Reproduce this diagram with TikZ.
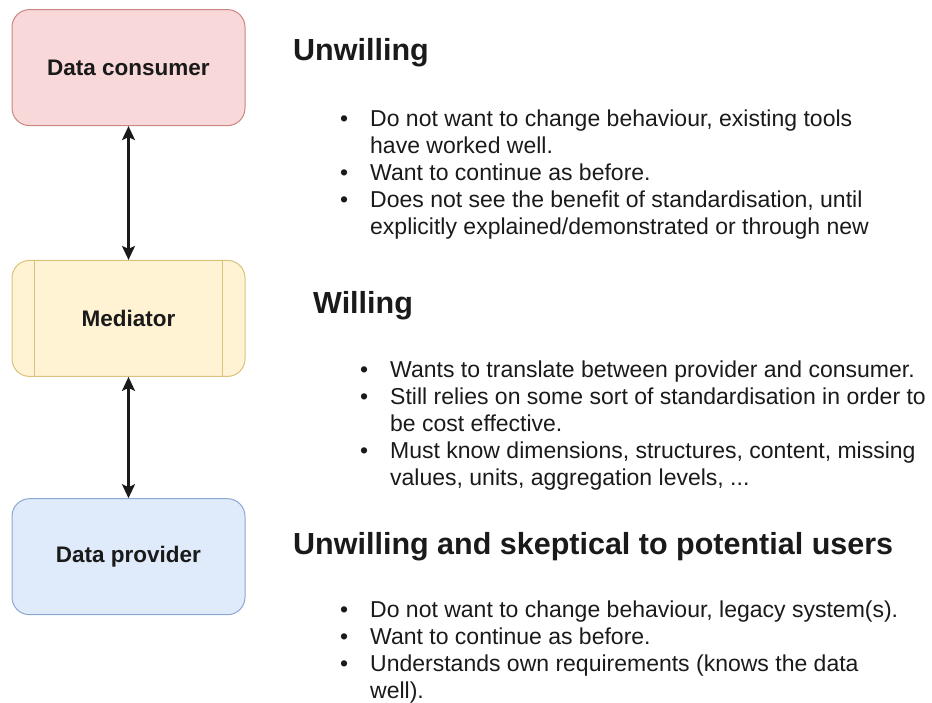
\documentclass[tikz,border=0pt]{standalone}
\usepackage{fontspec}
\setmainfont{Liberation Sans}
\usetikzlibrary{arrows.meta}
\definecolor{consfill}{HTML}{F8D8D8}
\definecolor{consdraw}{HTML}{C98683}
\definecolor{medfill}{HTML}{FFF3D4}
\definecolor{meddraw}{HTML}{D9C27A}
\definecolor{provfill}{HTML}{DFEAFB}
\definecolor{provdraw}{HTML}{8CA8D2}
\definecolor{ink}{HTML}{1A1A1A}
\tikzset{
  box/.style={rectangle, rounded corners=17.5pt, line width=1pt, minimum width=233pt, minimum height=116pt, inner sep=0pt, text=ink, font=\bfseries\fontsize{22.5}{27}\selectfont},
  head/.style={anchor=base west, inner sep=0pt, text=ink, font=\bfseries\fontsize{30.5}{36}\selectfont},
  txt/.style={anchor=base west, inner sep=0pt, text=ink, font=\fontsize{23}{27}\selectfont},
  bul/.style={anchor=base west, inner sep=0pt, text=ink, font=\fontsize{23}{27}\selectfont},
  mytip/.tip={Stealth[length=14pt,width=13pt,inset=3pt]},
  conn/.style={draw=ink, line width=2.2pt, arrows={mytip-mytip}}
}
\begin{document}
\begin{tikzpicture}[x=1pt,y=-1pt]
\useasboundingbox (0,0) rectangle (932,702);
% boxes
\node[box, fill=consfill, draw=consdraw] (cons) at (128.5,67.6) {Data consumer};
\node[box, fill=medfill, draw=meddraw] (med) at (128.5,318.4) {Mediator};
\node[box, fill=provfill, draw=provdraw] (prov) at (128.5,556.7) {Data provider};
\draw[meddraw, line width=1pt] ([xshift=23.3pt]med.north west) -- ([xshift=23.3pt]med.south west);
\draw[meddraw, line width=1pt] ([xshift=-23.3pt]med.north east) -- ([xshift=-23.3pt]med.south east);
% connectors
\draw[conn] (cons.south) -- (med.north);
\draw[conn] (med.south) -- (prov.north);
% section 1
\node[head] (h1) at (293,60) {Unwilling};
\node[bul] (b1a) at (340,126) {•};
\node[txt] (t1a) at (370,126) {Do not want to change behaviour, existing tools};
\node[txt] (t1b) at (370,153) {have worked well.};
\node[bul] (b1b) at (340,180) {•};
\node[txt] (t1c) at (370,180) {Want to continue as before.};
\node[bul] (b1c) at (340,207) {•};
\node[txt] (t1d) at (370,207) {Does not see the benefit of standardisation, until};
\node[txt] (t1e) at (370,234) {explicitly explained/demonstrated or through new};
% section 2
\node[head] (h2) at (313,313) {Willing};
\node[bul] (b2a) at (360,377) {•};
\node[txt] (t2a) at (390,377) {Wants to translate between provider and consumer.};
\node[bul] (b2b) at (360,404) {•};
\node[txt] (t2b) at (390,404) {Still relies on some sort of standardisation in order to};
\node[txt] (t2c) at (390,431) {be cost effective.};
\node[bul] (b2c) at (360,458) {•};
\node[txt] (t2d) at (390,458) {Must know dimensions, structures, content, missing};
\node[txt] (t2e) at (390,485) {values, units, aggregation levels, ...};
% section 3
\node[head] (h3) at (293,554) {Unwilling and skeptical to potential users};
\node[bul] (b3a) at (340,617) {•};
\node[txt] (t3a) at (370,617) {Do not want to change behaviour, legacy system(s).};
\node[bul] (b3b) at (340,644) {•};
\node[txt] (t3b) at (370,644) {Want to continue as before.};
\node[bul] (b3c) at (340,671) {•};
\node[txt] (t3c) at (370,671) {Understands own requirements (knows the data};
\node[txt] (t3d) at (370,698) {well).};
\end{tikzpicture}
\end{document}
